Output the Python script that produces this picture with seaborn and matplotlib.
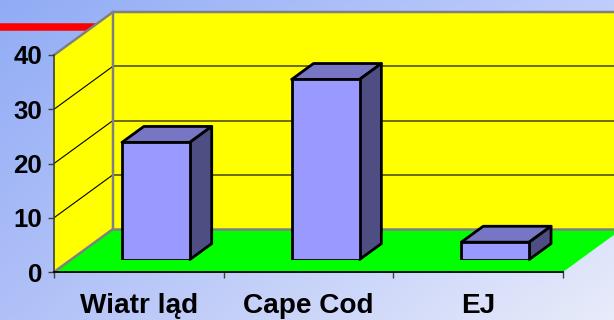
import numpy as np
import matplotlib
matplotlib.use("Agg")
import matplotlib.pyplot as plt
from matplotlib.patches import Polygon
from matplotlib.transforms import IdentityTransform
import seaborn as sns

# ---- data -------------------------------------------------------------
categories = ["Wiatr ląd", "Cape Cod", "EJ"]
values = [21.6, 33.2, 3.2]
y_ticks = [0, 10, 20, 30, 40]

# ---- look -------------------------------------------------------------
plt.rcParams["font.family"] = ["Liberation Sans", "DejaVu Sans"]
W, H, DPI = 614, 320, 100
DEPTH = np.array([59.0, 43.0])        # back-wall offset in pixels (x right, y up)
BAR_FRONT = 0.29                      # bar front plane, as fraction of depth
BAR_DEPTH = 0.37                      # bar thickness, as fraction of depth

fig = plt.figure(figsize=(W / DPI, H / DPI), dpi=DPI)

# background gradient
bg = fig.add_axes([0, 0, 1, 1], zorder=-10)
tl, tr = np.array([145, 172, 245]), np.array([192, 205, 252])
bl, br = np.array([176, 192, 248]), np.array([232, 236, 250])
u = np.linspace(0, 1, W)[None, :, None]
v = np.linspace(0, 1, H)[:, None, None]
grad = (tl * (1 - u) * (1 - v) + tr * u * (1 - v) + bl * (1 - u) * v + br * u * v) / 255
bg.imshow(grad, extent=[0, W, H, 0], aspect="auto")
bg.plot([0, 110], [26.5, 26.5], color="#ff0000", lw=5.4, solid_capstyle="butt")
bg.set_xlim(0, W)
bg.set_ylim(H, 0)
bg.axis("off")

# front plane of the plot box
ax = fig.add_axes([54 / W, 48 / H, 509 / W, 217 / H])
ax.set_xlim(-0.5, 2.5)
ax.set_ylim(0, 40)
ax.patch.set_visible(False)


def disp(a, x, y, f=0.0):
    return a.transData.transform((x, y)) + f * DEPTH


ident = IdentityTransform()
x0, x1 = -0.5, 2.5

# back wall
back = [disp(ax, x0, 0, 1), disp(ax, x1, 0, 1), disp(ax, x1, 40, 1), disp(ax, x0, 40, 1)]
ax.add_patch(Polygon(back, closed=True, fc="#ffff00", ec="none", transform=ident,
                     clip_on=False, zorder=0.2))
# side wall
side = [disp(ax, x0, 0), disp(ax, x0, 40), disp(ax, x0, 40, 1), disp(ax, x0, 0, 1)]
ax.add_patch(Polygon(side, closed=True, fc="#ffff00", ec="none", transform=ident,
                     clip_on=False, zorder=0.2))
# floor
floor = [disp(ax, x0, 0), disp(ax, x1, 0), disp(ax, x1, 0, 1), disp(ax, x0, 0, 1)]
ax.add_patch(Polygon(floor, closed=True, fc="#00ff00", ec="none", transform=ident,
                     clip_on=False, zorder=0.3))

# gridlines on the walls
for t in y_ticks[1:-1]:
    a, b = disp(ax, x0, t, 1), disp(ax, x1, t, 1)
    ax.plot([a[0], b[0]], [a[1], b[1]], color="#6b6b00", lw=1.4, transform=ident,
            clip_on=False, zorder=0.4)
    c = disp(ax, x0, t)
    ax.plot([c[0], a[0]], [c[1], a[1]], color="black", lw=0.8, transform=ident,
            clip_on=False, zorder=0.4)

# wall borders
edge_kw = dict(color="#808080", lw=1.8, transform=ident, clip_on=False, zorder=0.5)
p = [disp(ax, x0, 40), disp(ax, x0, 40, 1), disp(ax, x1, 40, 1)]
ax.plot([q[0] for q in p], [q[1] for q in p], **edge_kw)
p = [disp(ax, x0, 0), disp(ax, x0, 0, 1), disp(ax, x0, 40, 1)]
ax.plot([q[0] for q in p], [q[1] for q in p], **edge_kw)
p = [disp(ax, x0, 0, 1), disp(ax, x1, 0, 1)]
ax.plot([q[0] for q in p], [q[1] for q in p], **edge_kw)

# axes, ticks and labels
for s in ["top", "right"]:
    ax.spines[s].set_visible(False)
ax.spines["left"].set_color("#404040")
ax.spines["left"].set_linewidth(1.2)
ax.spines["bottom"].set_color("black")
ax.spines["bottom"].set_linewidth(1.3)
ax.set_yticks(y_ticks)
ax.set_yticklabels([str(t) for t in y_ticks], fontsize=18.6, fontweight="bold")
ax.tick_params(axis="y", length=4.3, width=1, color="#404040", pad=4.3)
ax.set_xticks(range(len(categories)))
ax.set_xticklabels(categories, fontsize=20.2, fontweight="bold")
ax.set_xticks([-0.5, 0.5, 1.5, 2.5], minor=True)
ax.tick_params(axis="x", which="major", length=0, pad=15)
ax.tick_params(axis="x", which="minor", length=4.3, width=1, color="#404040")

# bars sit a little behind the front plane
off = BAR_FRONT * DEPTH
axb = fig.add_axes([(54 + off[0]) / W, (48 + off[1]) / H, 509 / W, 217 / H])
sns.barplot(x=categories, y=values, ax=axb, color="#9999ff", saturation=1,
            width=0.4, edgecolor="black", linewidth=2)
axb.set_xlim(-0.5, 2.5)
axb.set_ylim(0, 40)
axb.axis("off")
axb.patch.set_visible(False)

for bar in axb.patches:
    bx, bw, bh = bar.get_x(), bar.get_width(), bar.get_height()
    fl = disp(axb, bx, bh)
    fr = disp(axb, bx + bw, bh)
    br_ = disp(axb, bx + bw, 0)
    d = BAR_DEPTH * DEPTH
    top = [fl, fr, fr + d, fl + d]
    rside = [br_, fr, fr + d, br_ + d]
    axb.add_patch(Polygon(top, closed=True, fc="#7676c4", ec="black", lw=2,
                          joinstyle="round", transform=ident, clip_on=False, zorder=0.9))
    axb.add_patch(Polygon(rside, closed=True, fc="#4e4e82", ec="black", lw=2,
                          joinstyle="round", transform=ident, clip_on=False, zorder=0.9))
    bar.set_zorder(1.0)

fig.savefig("out.png", dpi=DPI)
